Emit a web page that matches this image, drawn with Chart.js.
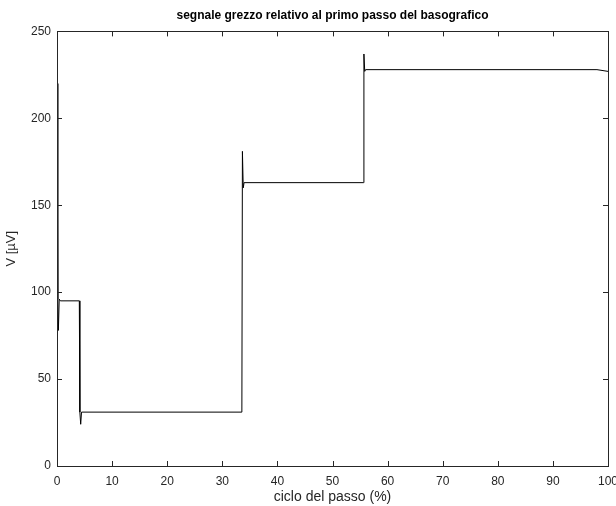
<!DOCTYPE html>
<html>
<head>
<meta charset="utf-8">
<script src="https://cdn.jsdelivr.net/npm/chart.js@4"></script>
<style>
	body { margin: 0; background: #fff; }
	#wrap { width: 616px; height: 506px; }
</style>
</head>
<body>
<div id="wrap"><canvas id="sig_chart" width="616" height="506"></canvas></div>
<script>
// percentuale del ciclo del passo e valori del segnale
const cycle_pct = [0, 0.15, 0.25, 0.4, 0.6, 4.05, 4.15, 4.3, 4.45, 33.55, 33.65, 33.8, 33.95, 55.6, 55.7, 55.85, 56.0, 98.0, 100];
const signal_uv = [220, 96, 78, 96, 95, 95, 31, 24, 31, 31, 181, 160, 163, 163, 237, 227, 228, 228, 227];

const x_ticks = [0, 10, 20, 30, 40, 50, 60, 70, 80, 90, 100];
const y_ticks = [0, 50, 100, 150, 200, 250];

const axis_color = '#262626';
const font_family = '"Liberation Sans", Arial, Helvetica, sans-serif';

const points = cycle_pct.map((x, i) => ({ x: x, y: signal_uv[i] }));

// box + ticks verso l'interno, come in matlab
const box_plugin = {
	id: 'box_plugin',
	afterDraw: function (chart) {
		const ctx = chart.ctx;
		const a = chart.chartArea;
		const xs = chart.scales.x;
		const ys = chart.scales.y;
		ctx.save();
		ctx.strokeStyle = axis_color;
		ctx.lineWidth = 1;
		ctx.strokeRect(Math.round(a.left) + 0.5, Math.round(a.top) + 0.5,
			Math.round(a.right - a.left), Math.round(a.bottom - a.top));
		ctx.beginPath();
		x_ticks.forEach(function (v) {
			const px = Math.round(xs.getPixelForValue(v)) + 0.5;
			ctx.moveTo(px, a.bottom);
			ctx.lineTo(px, a.bottom - 5);
			ctx.moveTo(px, a.top);
			ctx.lineTo(px, a.top + 5);
		});
		y_ticks.forEach(function (v) {
			const py = Math.round(ys.getPixelForValue(v)) + 0.5;
			ctx.moveTo(a.left, py);
			ctx.lineTo(a.left + 5, py);
			ctx.moveTo(a.right, py);
			ctx.lineTo(a.right - 5, py);
		});
		ctx.stroke();
		ctx.restore();
	}
};

const ctx = document.getElementById('sig_chart').getContext('2d');

new Chart(ctx, {
	type: 'line',
	data: {
		datasets: [{
			label: 'segnale',
			data: points,
			borderColor: '#000',
			borderWidth: 1,
			pointRadius: 0,
			tension: 0,
			fill: false
		}]
	},
	options: {
		responsive: false,
		animation: false,
		layout: {
			padding: { left: 0, right: 8, top: 0, bottom: 0 }
		},
		plugins: {
			legend: { display: false },
			tooltip: { enabled: false },
			title: {
				display: true,
				fullSize: false,
				text: 'segnale grezzo relativo al primo passo del basografico',
				color: '#000',
				font: { family: font_family, size: 12, weight: 'bold' },
				padding: { top: 8, bottom: 9 }
			}
		},
		scales: {
			x: {
				type: 'linear',
				min: 0,
				max: 100,
				afterBuildTicks: function (s) {
					s.ticks = x_ticks.map(v => ({ value: v }));
				},
				afterFit: function (s) {
					s.height = 40;
					s.paddingLeft = 0;
					s.paddingRight = 0;
				},
				grid: { display: false, drawTicks: false },
				border: { display: false },
				ticks: {
					color: axis_color,
					padding: 8,
					maxRotation: 0,
					font: { family: font_family, size: 12 }
				},
				title: {
					display: true,
					text: 'ciclo del passo (%)',
					color: axis_color,
					padding: { top: 2, bottom: 0 },
					font: { family: font_family, size: 14 }
				}
			},
			y: {
				type: 'linear',
				min: 0,
				max: 250,
				afterBuildTicks: function (s) {
					s.ticks = y_ticks.map(v => ({ value: v }));
				},
				afterFit: function (s) {
					s.width = 57;
					s.paddingTop = 0;
					s.paddingBottom = 0;
				},
				grid: { display: false, drawTicks: false },
				border: { display: false },
				ticks: {
					color: axis_color,
					padding: 6,
					font: { family: font_family, size: 12 }
				},
				title: {
					display: true,
					text: 'V [µV]',
					color: axis_color,
					padding: { top: 4, bottom: 4 },
					font: { family: font_family, size: 13 }
				}
			}
		}
	},
	plugins: [box_plugin]
});
</script>
</body>
</html>
